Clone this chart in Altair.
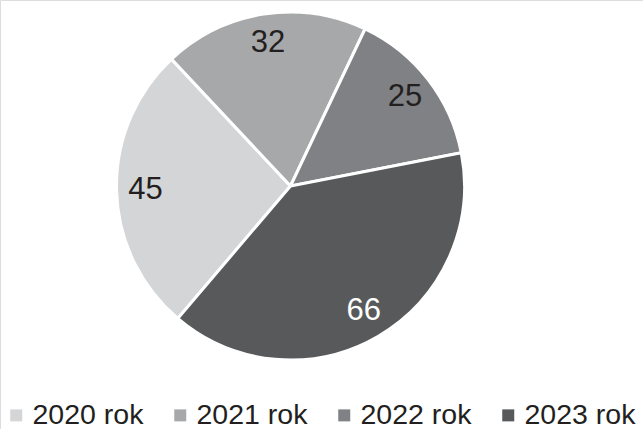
import altair as alt
import pandas as pd
import math

years = ["2020 rok", "2021 rok", "2022 rok", "2023 rok"]
values = [45, 32, 25, 66]
colors = ["#d4d5d7", "#a7a8aa", "#808184", "#58595b"]
label_colors = ["#231f20", "#231f20", "#231f20", "#ffffff"]

df = pd.DataFrame({
    "rok": years,
    "value": values,
    "order": list(range(len(years))),
    "tcolor": label_colors,
})

start = math.radians(220.4)
theta_scale = alt.Scale(range=[start, start + 2 * math.pi])

cx, cy = 290.5, 186

base = alt.Chart(df).encode(
    theta=alt.Theta("value:Q", stack=True, scale=theta_scale),
    order=alt.Order("order:Q"),
    x=alt.value(cx),
    y=alt.value(cy),
)

arcs = base.mark_arc(outerRadius=174, stroke="white", strokeWidth=3).encode(
    color=alt.Color(
        "rok:N",
        scale=alt.Scale(domain=years, range=colors),
        legend=alt.Legend(
            orient="none",
            direction="horizontal",
            legendX=2,
            legendY=401,
            title=None,
            symbolType="square",
            symbolSize=144,
            symbolStrokeWidth=0,
            labelFontSize=28.5,
            labelFont="Liberation Sans",
            labelColor="#231f20",
            labelOffset=2,
            labelLimit=0,
            columnPadding=22,
            padding=0,
        ),
    )
)

labels = base.mark_text(
    radius=145, fontSize=31, font="Liberation Sans", align="center", baseline="middle"
).encode(
    text=alt.Text("value:Q"),
    color=alt.Color("tcolor:N", scale=None),
)

chart = (
    alt.layer(arcs, labels)
    .properties(width=643, height=429, padding=0, autosize=alt.AutoSizeParams(type="none"))
    .configure_view(stroke=None)
    .configure(background="white")
)

chart.save("out.html", embed_options={"renderer": "svg", "actions": False})
